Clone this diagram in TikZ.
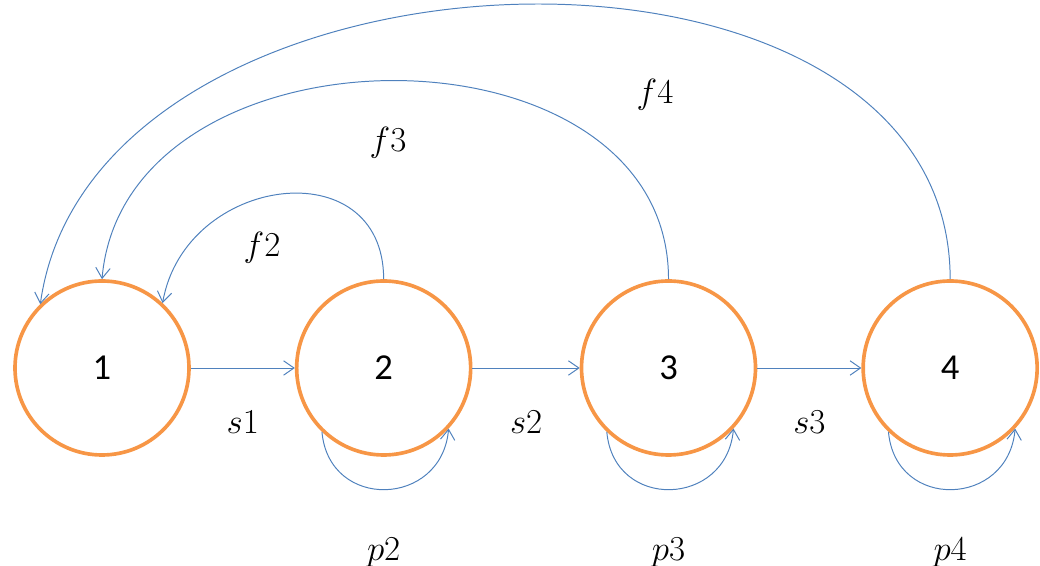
\documentclass[tikz,border=0pt]{standalone}
\usepackage{fontspec}
\usepackage{tikz}
\usetikzlibrary{arrows.meta,positioning}
\newfontfamily\numfont{Carlito}
\definecolor{stateline}{HTML}{F79646}
\definecolor{edgeline}{HTML}{4F81BD}

\begin{document}
\begin{tikzpicture}[>={Straight Barb[length=2.6mm,width=3.6mm]},
    font=\fontsize{28}{32}\selectfont,
    state/.style={draw=stateline, line width=2.6pt, circle, minimum size=4.35cm, font=\fontsize{26}{30}\selectfont\numfont},
    edge/.style={->, draw=edgeline, line width=0.7pt}]
  \useasboundingbox (0,0) rectangle (26,14.15);
  \node[state] (n1) at (2.55,4.95) {1};
  \node[state, right=2.6cm of n1] (n2) {2};
  \node[state, right=2.68cm of n2] (n3) {3};
  \node[state, right=2.6cm of n3] (n4) {4};
  % forward steps
  \draw[edge] (n1) -- node[below=0.95cm] {$s1$} (n2);
  \draw[edge] (n2) -- node[below=0.95cm] {$s2$} (n3);
  \draw[edge] (n3) -- node[below=0.95cm] {$s3$} (n4);
  % self loops
  \draw[edge] (n2.226) to[out=-85, in=-95, looseness=1.6] (n2.-43);
  \draw[edge] (n3.226) to[out=-85, in=-95, looseness=1.6] (n3.-43);
  \draw[edge] (n4.226) to[out=-85, in=-95, looseness=1.6] (n4.-43);
  \node[below=1.9cm of n2] (p2) {$p2$};
  \node[below=1.9cm of n3] (p3) {$p3$};
  \node[below=1.9cm of n4] (p4) {$p4$};
  % back to the start
  \draw[edge] (n2.north) to[out=90, in=80, looseness=1.5] (n1.47);
  \draw[edge] (n3.north) to[out=90, in=85, looseness=1.2] (n1.north);
  \draw[edge] (n4.north) to[out=90, in=82, looseness=1.08] (n1.134);
  \node (f2) at (6.55,7.95) {$f2$};
  \node (f3) at (9.7,10.575) {$f3$};
  \node (f4) at (16.375,11.775) {$f4$};
\end{tikzpicture}
\end{document}
